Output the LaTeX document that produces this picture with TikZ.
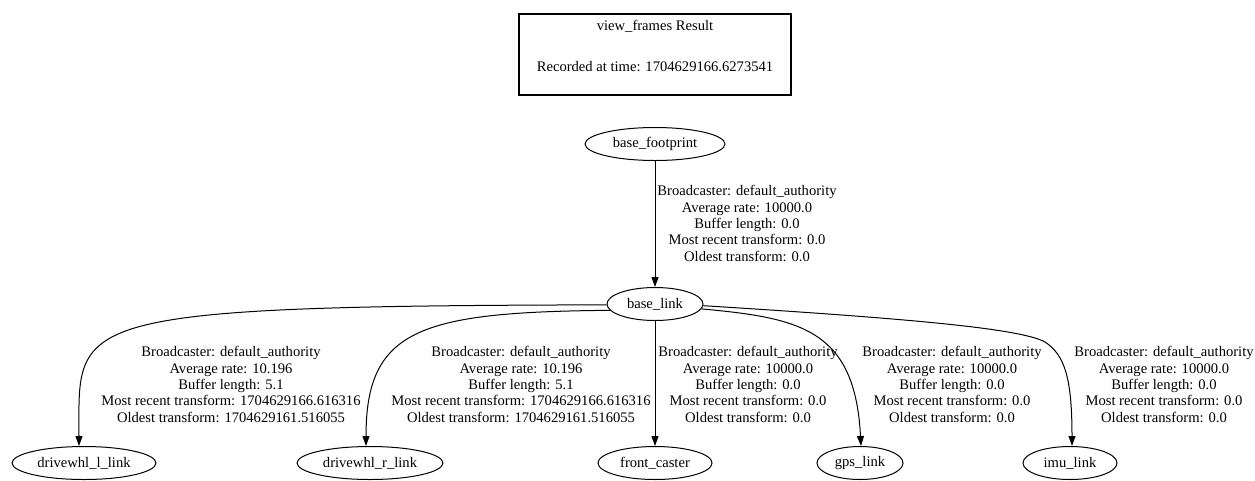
\documentclass[tikz,border=0pt]{standalone}
\usepackage{fontspec}
\setmainfont{Liberation Serif}
\usetikzlibrary{arrows.meta,shapes.geometric,calc}
\begin{document}
\begin{tikzpicture}[x=1pt,y=-1pt,
  frame/.style={ellipse,draw,line width=1pt,inner sep=0pt,minimum height=33pt,font=\fontsize{14.6}{16.6}\selectfont},
  edge/.style={line width=1pt,-{Triangle[length=10pt,width=7pt]}},
  lbl/.style={align=center,font=\fontsize{14.6}{16.4}\selectfont,inner sep=0pt}]
\useasboundingbox[fill=white] (0,0) rectangle (1255,480);
% title box
\node[draw,line width=2pt,minimum width=272pt,minimum height=81pt] (title) at (655,54) {};
\node[lbl] (titletext) at (655,46)
  {view\_frames Result\\[24pt]Recorded at time: 1704629166.6273541};
% frames
\node[frame,minimum width=140pt] (bf) at (655,144) {base\_footprint};
\node[frame,minimum width=96pt] (bl) at (655,304) {base\_link};
\node[frame,minimum width=144pt] (dl) at (84,463) {drivewhl\_l\_link};
\node[frame,minimum width=146pt] (dr) at (370,463) {drivewhl\_r\_link};
\node[frame,minimum width=114pt] (fc) at (655,463) {front\_caster};
\node[frame,minimum width=86pt] (gps) at (860,463) {gps\_link};
\node[frame,minimum width=94pt] (imu) at (1070,463) {imu\_link};
% edges
\draw[edge] (bf) -- (bl);
\draw[edge] (bl.181) .. controls (60,306) and ($(dl.north)+(-5,-127)$) .. ($(dl.north)+(-5,0)$);
\draw[edge] (bl.188) .. controls (420,312) and ($(dr.north)+(-4,-117)$) .. ($(dr.north)+(-4,0)$);
\draw[edge] (bl) -- (fc);
\draw[edge] (bl.354) .. controls (800,318) and ($(gps.north)+(-5,-117)$) .. ($(gps.north)+(1,0)$);
\draw[edge] (bl.358) .. controls (900,318) and (1020,328) .. (1045,342)
  .. controls (1065,355) and ($(imu.north)+(2,-67)$) .. ($(imu.north)+(2,0)$);
% labels
\node[lbl] (l0) at (747,223.5) {Broadcaster: default\_authority\\Average rate: 10000.0\\Buffer length: 0.0\\Most recent transform: 0.0\\Oldest transform: 0.0};
\node[lbl] (l1) at (231,384.5) {Broadcaster: default\_authority\\Average rate: 10.196\\Buffer length: 5.1\\Most recent transform: 1704629166.616316\\Oldest transform: 1704629161.516055};
\node[lbl] (l2) at (521,384.5) {Broadcaster: default\_authority\\Average rate: 10.196\\Buffer length: 5.1\\Most recent transform: 1704629166.616316\\Oldest transform: 1704629161.516055};
\node[lbl] (l3) at (748,384.5) {Broadcaster: default\_authority\\Average rate: 10000.0\\Buffer length: 0.0\\Most recent transform: 0.0\\Oldest transform: 0.0};
\node[lbl] (l4) at (952,384.5) {Broadcaster: default\_authority\\Average rate: 10000.0\\Buffer length: 0.0\\Most recent transform: 0.0\\Oldest transform: 0.0};
\node[lbl] (l5) at (1164,384.5) {Broadcaster: default\_authority\\Average rate: 10000.0\\Buffer length: 0.0\\Most recent transform: 0.0\\Oldest transform: 0.0};
\end{tikzpicture}
\end{document}
